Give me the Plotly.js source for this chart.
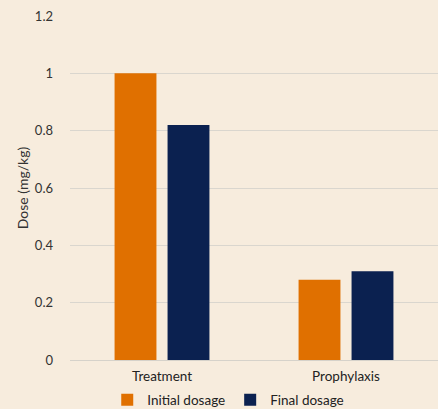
<!DOCTYPE html>
<html><head><meta charset="utf-8">
<script src="https://cdn.plot.ly/plotly-3.0.1.min.js"></script>
<style>html,body{margin:0;padding:0;background:#F7ECDD;}</style>
</head><body><div id="chart" style="width:438px;height:409px;"></div>
<script>
const categories = ["Treatment", "Prophylaxis"];
const initialDosage = [1.0, 0.28];
const finalDosage = [0.82, 0.31];
const yTicks = [0, 0.2, 0.4, 0.6, 0.8, 1, 1.2];
const yTickLabels = ["0", "0.2", "0.4", "0.6", "0.8", "1", "1.2"];

const font = "Lato, 'Open Sans', sans-serif";
const data = [
  {type: "bar", name: "Initial dosage", x: categories, y: initialDosage, marker: {color: "#E07000"}},
  {type: "bar", name: "Final dosage", x: categories, y: finalDosage, marker: {color: "#0B2150"}}
];
const layout = {
  width: 438, height: 409,
  margin: {l: 70, r: 0, t: 16, b: 49},
  paper_bgcolor: "#F7ECDD", plot_bgcolor: "#F7ECDD",
  font: {family: font, size: 12, color: "#333333"},
  barmode: "group", bargap: 0.424, bargroupgap: 0.21,
  showlegend: true,
  legend: {orientation: "h", x: 0.43, xanchor: "center", yref: "container", y: 0.022, yanchor: "middle",
           bgcolor: "rgba(0,0,0,0)", font: {size: 13.5, color: "#222"}, itemwidth: 30, tracegroupgap: 0},
  xaxis: {showgrid: false, showline: true, linecolor: "#D6D2CA", linewidth: 1,
          ticks: "", ticklabelstandoff: 4, tickfont: {size: 13.5, color: "#222"}, fixedrange: true},
  yaxis: {range: [0, 1.2], tickvals: yTicks, ticktext: yTickLabels,
          showgrid: true, gridcolor: "#DAD6CE", gridwidth: 1, zeroline: false,
          ticks: "", ticklabelstandoff: 16, tickfont: {size: 13, color: "#333"},
          title: {text: "Dose (mg/kg)", font: {size: 14, color: "#333"}, standoff: 2}}
};
Plotly.newPlot("chart", data, layout, {displayModeBar: false, staticPlot: true});
</script></body></html>
